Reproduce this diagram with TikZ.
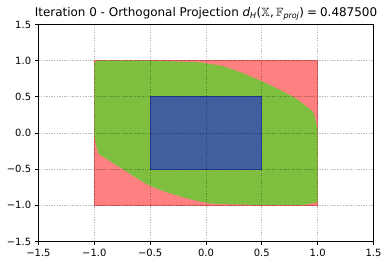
\documentclass[tikz,border=0pt]{standalone}
\usepackage{fontspec}
\usepackage{amssymb}
\setmainfont{DejaVu Sans}
\definecolor{redfill}{HTML}{FF8080}
\definecolor{rededge}{HTML}{F26464}
\definecolor{greenfill}{HTML}{7FBF3F}
\definecolor{bluefill}{HTML}{3F5F9F}
\definecolor{blueedge}{HTML}{2A3F9F}
\tikzset{
  gridline/.style={black, opacity=0.28, line width=0.8bp, dash pattern=on 1.3bp off 1.3bp},
  spine/.style={black, line width=0.8bp},
  tickmark/.style={black, line width=0.8bp},
  ticklabel/.style={font=\fontsize{10}{12}\selectfont, inner sep=0pt},
  titlelabel/.style={font=\fontsize{12}{14}\selectfont, inner sep=0pt},
}
\begin{document}
\begin{tikzpicture}[x=111.67bp, y=72.33bp]
\useasboundingbox (-1.8447,-1.8388) rectangle (1.6298,1.8388);
% red square
\fill[redfill, draw=rededge, line width=0.6bp] (-1,-1) rectangle (1,1);
% green region
\fill[greenfill] (-1,-0.03) -- (-1,0.97) -- (-0.97,1.0) -- (-0.5,1.0)
  -- plot[smooth, tension=0.6] coordinates {(-0.5,1.0) (-0.08,0.978) (0,0.962) (0.19,0.905) (0.5,0.715) (0.79,0.49) (0.96,0.29)}
  -- (0.985,0.16) -- (0.995,0.08) -- (1,0.02) -- (1,-0.955) -- (0.87,-0.997) -- (0.5,-0.997)
  -- plot[smooth, tension=0.6] coordinates {(0.5,-0.997) (0.08,-0.978) (0,-0.962) (-0.19,-0.895) (-0.5,-0.73) (-0.78,-0.466) (-0.965,-0.285)}
  -- (-0.985,-0.16) -- (-0.995,-0.08) -- cycle;
% blue square
\fill[bluefill, draw=blueedge, line width=0.8bp] (-0.5,-0.5) rectangle (0.5,0.5);
% grid
\foreach \v in {-1,-0.5,0,0.5,1} {
  \draw[gridline] (\v,-1.5) -- (\v,1.5);
  \draw[gridline] (-1.5,\v) -- (1.5,\v);
}
% spines
\draw[spine] (-1.5,-1.5) rectangle (1.5,1.5);
% ticks and labels
\foreach \v/\t [count=\i] in {-1.5/−1.5,-1/−1.0,-0.5/−0.5,0/0.0,0.5/0.5,1/1.0,1.5/1.5} {
  \coordinate (xt\i) at (\v,-1.5);
  \draw[tickmark] (xt\i) -- ++(0,-3.5bp) node[ticklabel, anchor=north, yshift=-3.5bp] {\t};
  \coordinate (yt\i) at (-1.5,\v);
  \draw[tickmark] (yt\i) -- ++(-3.5bp,0) node[ticklabel, anchor=east, xshift=-3.5bp] {\t};
}
% title
\node[titlelabel, anchor=base] (title) at (0,1.5) [yshift=8bp] {Iteration 0 - Orthogonal Projection \textit{d}\textsubscript{\textit{H}}($\mathbb{X}$,\hspace{0.2em}$\mathbb{F}$\textsubscript{\textit{proj}})\hspace{0.25em}=\hspace{0.25em}0.487500};
\end{tikzpicture}
\end{document}
